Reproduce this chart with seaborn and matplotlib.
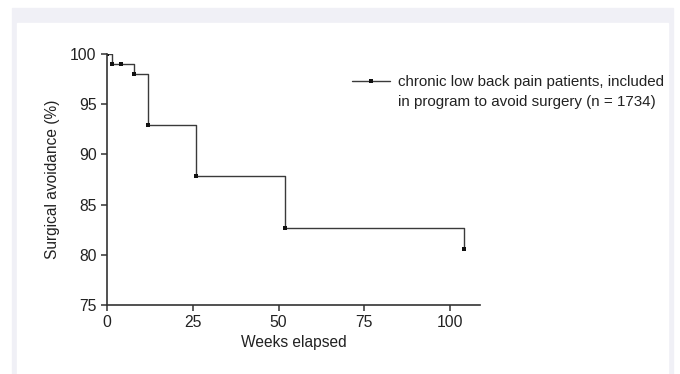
import matplotlib
matplotlib.use("Agg")
import matplotlib.pyplot as plt
import seaborn as sns
import pandas as pd
from matplotlib.lines import Line2D
from matplotlib.patches import Rectangle

weeks = [0, 1.5, 4, 8, 12, 26, 52, 104]
avoidance = [100, 99, 99, 98, 92.9, 87.8, 82.7, 80.6]
x_ticks = [0, 25, 50, 75, 100]
y_ticks = [75, 80, 85, 90, 95, 100]
legend_lines = ["chronic low back pain patients, included",
                "in program to avoid surgery (n = 1734)"]

km = pd.DataFrame({"weeks": weeks, "avoidance": avoidance})

sns.set_style("ticks")
plt.rcParams["font.family"] = ["Liberation Sans", "DejaVu Sans"]

fig = plt.figure(figsize=(6.8, 3.74), dpi=100)
W, H = 680, 374
# light framing band around the panel
fig.patches.append(Rectangle((12 / W, 0), (673 - 12) / W, (374 - 8) / H,
                             transform=fig.transFigure, color="#f0f0f6", zorder=-2))
fig.patches.append(Rectangle((17 / W, 0), (668 - 17) / W, (374 - 23) / H,
                             transform=fig.transFigure, color="white", zorder=-1))

ax = fig.add_axes([107 / W, (374 - 305) / H, (480 - 107) / W, (305 - 54) / H])
ax.patch.set_alpha(0)

sns.lineplot(data=km, x="weeks", y="avoidance", ax=ax, drawstyle="steps-post",
             color="#3a3a3a", linewidth=1.0, marker="s", markersize=3.5,
             markeredgewidth=0, markerfacecolor="#111111", legend=False)

ax.set_xlim(0, 108.7)
ax.set_ylim(75, 100)
ax.set_xticks(x_ticks)
ax.set_yticks(y_ticks)
ax.tick_params(labelsize=11.3, length=4, width=1.1, color="#333333", labelcolor="#222222")
sns.despine(ax=ax)
for s in ["left", "bottom"]:
    ax.spines[s].set_linewidth(1.2)
    ax.spines[s].set_color("#333333")

ax.set_xlabel("Weeks elapsed", fontsize=11.2, color="#222222", labelpad=3)
ax.set_ylabel("Surgical avoidance (%)", fontsize=11.2, color="#222222", labelpad=7)

# handle sits beside the first line of the label, as in the reference
handles = [ax.get_lines()[0], Line2D([], [], color="none")]
ax.legend(handles, legend_lines, loc="upper left", bbox_to_anchor=(0.641, 0.94),
          frameon=False, handlelength=2.5, handletextpad=0.55, borderaxespad=0,
          labelcolor="#222222", prop={"size": 10.9}, labelspacing=0.4)

fig.savefig("out.png", dpi=100)
